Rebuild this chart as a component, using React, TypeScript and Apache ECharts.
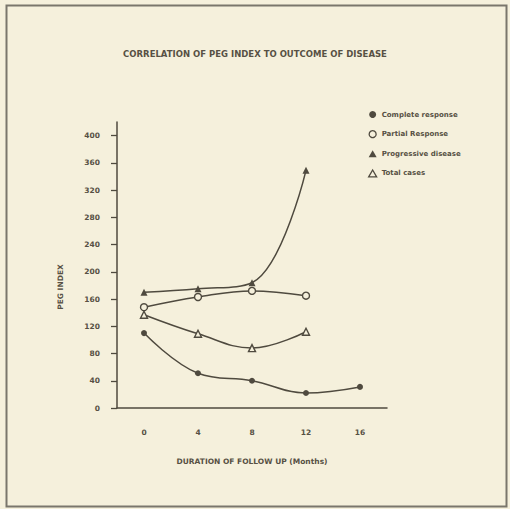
import React, { useEffect, useRef } from "react";
import * as echarts from "echarts";

const months = ["0", "4", "8", "12", "16"];
const yTicks = [0, 40, 80, 120, 160, 200, 240, 280, 320, 360, 400];
const completeResponse = [110, 51, 40, 22, 31];
const partialResponse = [148, 163, 172, 165, null];
const progressiveDisease = [170, 175, 184, 349, null];
const totalCases = [137, 109, 88, 112, null];

const titleText = "CORRELATION OF PEG INDEX TO OUTCOME OF DISEASE";
const xName = "DURATION OF FOLLOW UP (Months)";
const yName = "PEG INDEX";
const seriesNames = ["Complete response", "Partial Response", "Progressive disease", "Total cases"];

const BG = "#f5f0dc";
const INK = "#4f4a3f";
const TEXT = "#575044";
const FONT = "DejaVu Sans";

export default function App() {
  const ref = useRef<HTMLDivElement>(null);
  useEffect(() => {
    if (!ref.current) return;
    const chart = echarts.init(ref.current, undefined, { renderer: "svg" });
    const lineSeries = (name: string, data: (number | null)[], symbol: string, hollow: boolean, size: number) => ({
      name,
      type: "line",
      data,
      smooth: 0.4,
      symbol,
      symbolSize: size,
      connectNulls: false,
      lineStyle: { color: INK, width: 1.5 },
      itemStyle: hollow
        ? { color: BG, borderColor: INK, borderWidth: 1.4 }
        : { color: INK, borderColor: INK, borderWidth: 0 },
    });
    chart.setOption({
      animation: false,
      backgroundColor: BG,
      textStyle: { fontFamily: FONT },
      title: {
        text: titleText,
        left: "center",
        top: 44,
        textStyle: { fontSize: 8.5, fontWeight: "bold", color: TEXT, fontFamily: FONT },
      },
      legend: {
        orient: "vertical",
        left: 363,
        top: 106,
        itemWidth: 8,
        itemHeight: 7,
        itemGap: 12,
        textStyle: { fontSize: 7, fontWeight: "bold", color: TEXT, fontFamily: FONT },
        data: [
          { name: seriesNames[0], icon: "circle", itemStyle: { color: INK, borderWidth: 0 } },
          { name: seriesNames[1], icon: "circle", itemStyle: { color: BG, borderColor: INK, borderWidth: 1.3 } },
          { name: seriesNames[2], icon: "triangle", itemStyle: { color: INK, borderWidth: 0 } },
          { name: seriesNames[3], icon: "triangle", itemStyle: { color: BG, borderColor: INK, borderWidth: 1.3 } },
        ],
      },
      grid: { left: 117, right: 123, top: 122, bottom: 101, containLabel: false },
      xAxis: {
        type: "category",
        data: months,
        boundaryGap: true,
        name: xName,
        nameLocation: "middle",
        nameGap: 49,
        nameTextStyle: { fontSize: 7.5, fontWeight: "bold", color: TEXT, fontFamily: FONT },
        axisLine: { lineStyle: { color: INK, width: 1.5 } },
        axisTick: { alignWithLabel: true, length: 6, lineStyle: { color: INK, width: 1.3 } },
        axisLabel: { margin: 20, fontSize: 7.5, fontWeight: "bold", color: TEXT, fontFamily: FONT },
        splitLine: { show: false },
      },
      yAxis: {
        type: "value",
        min: 0,
        max: 420,
        interval: 40,
        name: yName,
        nameLocation: "middle",
        nameGap: 53,
        nameTextStyle: { fontSize: 7.5, fontWeight: "bold", color: TEXT, fontFamily: FONT, padding: [0, 44, 0, 0] },
        axisLine: { show: true, lineStyle: { color: INK, width: 1.5 } },
        axisTick: { show: true, length: 6, customValues: yTicks, lineStyle: { color: INK, width: 1.3 } },
        axisLabel: { margin: 17, fontSize: 7.5, fontWeight: "bold", color: TEXT, fontFamily: FONT, customValues: yTicks },
        splitLine: { show: false },
      },
      graphic: [
        {
          type: "rect",
          shape: { x: 6.5, y: 5.5, width: 500, height: 501 },
          style: { fill: "none", stroke: "#7a766c", lineWidth: 2 },
          silent: true,
        },
      ],
      series: [
        lineSeries(seriesNames[0], completeResponse, "circle", false, 6),
        lineSeries(seriesNames[1], partialResponse, "circle", true, 7),
        lineSeries(seriesNames[2], progressiveDisease, "triangle", false, 7),
        lineSeries(seriesNames[3], totalCases, "triangle", true, 7),
      ],
    });
    return () => chart.dispose();
  }, []);
  return (
    <div
      ref={ref}
      style={{ position: "absolute", left: 0, top: 0, width: 510, height: 509 }}
    />
  );
}
